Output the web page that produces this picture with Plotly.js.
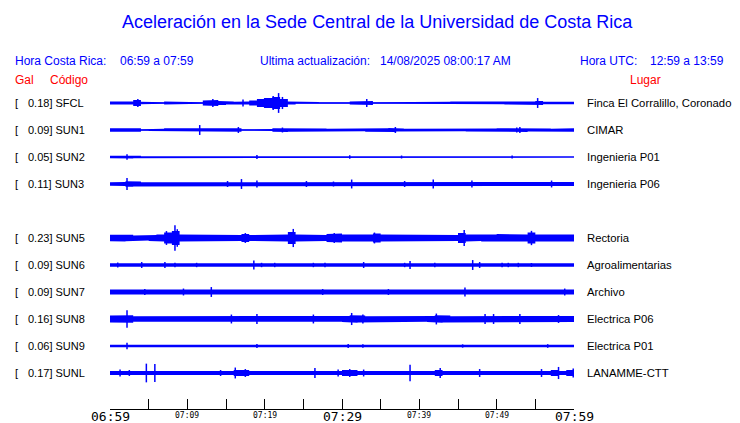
<!DOCTYPE html>
<html>
<head>
<meta charset="utf-8">
<script src="https://cdn.plot.ly/plotly-3.0.1.min.js"></script>
<style>html,body{margin:0;padding:0;background:#fff;}#chart{width:740px;height:423px;}</style>
</head>
<body>
<div id="chart"></div>
<script>
// ---------------- DATA ----------------
// Station codes, locations and peak acceleration (Gal)
const codes = ["SFCL","SUN1","SUN2","SUN3","SUN5","SUN6","SUN7","SUN8","SUN9","SUNL"];
const places = ["Finca El Corralillo, Coronado","CIMAR","Ingenieria P01","Ingenieria P06","Rectoria","Agroalimentarias","Archivo","Electrica P06","Electrica P01","LANAMME-CTT"];
const peakGal = [0.18,0.09,0.05,0.11,0.23,0.09,0.09,0.16,0.06,0.17];

// Time axis: minutes after 06:59 local
const tickMinutes = [0,5,10,15,20,25,30,35,40,45,50,55,60];
const tickLabels = ["06:59","","07:09","","07:19","","07:29","","07:39","","07:49","","07:59"];
const bigTicks = ["06:59","07:29","07:59"];

// Envelope (half amplitude, mGal) for each 1-minute interval, per station
const envSFCL = [27,22,27,54,22,18,13,27,27,27, 23,14,45,54,36,27,22,27,45,72, 90,108,72,27,14,14,18,13,18,18, 14,27,36,36,14,14,13,14,14,22, 14,22,14,22,27,22,14,18,22,27, 22,27,27,27,27,36,22,22,27,22];
const envSUN1 = [31,31,31,31,14,18,22,31,31,27, 27,31,31,31,31,18,31,14,27,22, 18,31,36,31,31,31,27,27,22,31, 31,27,22,31,31,31,36,27,22,27, 27,27,27,18,14,22,27,27,27,27, 31,31,31,36,27,27,27,22,27,31];
const envSUN2 = [22,14,27,22,9,11,11,14,18,9, 11,9,18,13,13,22,22,14,22,14, 13,18,9,11,9,22,18,9,11,18, 22,22,11,11,11,11,14,18,18,9, 11,22,18,9,11,9,18,22,22,22, 18,13,18,18,9,11,18,22,18,11];
const envSUN3 = [32,36,50,45,32,32,32,36,36,32, 32,32,32,32,36,45,32,36,32,45, 36,32,32,32,32,45,32,36,36,40, 32,40,36,32,32,32,32,32,40,32, 32,45,40,32,32,32,45,45,40,32, 32,36,32,32,32,32,32,45,32,36];
const envSUN5 = [58,63,58,45,45,54,63,99,126,63, 54,54,54,54,54,54,54,72,54,54, 54,54,63,108,63,54,54,54,72,81, 63,54,54,63,81,63,54,54,54,54, 54,54,63,63,54,90,63,54,63,63, 72,63,72,63,99,63,63,63,72,63];
const envSUN6 = [31,36,31,31,36,31,31,36,31,31, 31,31,31,31,31,31,31,31,36,31, 31,31,31,31,31,31,31,31,31,31, 31,31,36,31,31,31,31,31,36,31, 31,31,31,31,31,31,40,40,31,31, 31,31,31,31,31,31,31,31,31,31];
const envSUN7 = [45,45,42,42,50,42,45,45,42,50, 45,42,45,50,45,42,42,42,45,42, 42,45,42,42,42,45,42,50,42,45, 42,45,42,42,45,42,50,42,45,42, 42,45,42,42,45,50,45,42,42,45, 42,45,42,42,45,42,42,45,50,45];
const envSUN8 = [63,63,68,50,50,50,50,50,55,50, 50,50,55,50,50,63,63,50,55,63, 50,50,50,55,50,50,55,50,50,50, 55,68,63,50,50,50,50,50,50,50, 50,55,68,63,50,50,50,50,63,63, 50,50,55,63,55,50,50,63,63,55];
const envSUN9 = [23,23,27,23,23,18,23,23,23,18, 23,23,23,23,27,23,23,23,23,27, 23,23,23,18,23,23,23,23,23,23, 27,23,27,23,23,23,23,18,23,23, 23,23,23,23,23,23,27,23,23,23, 23,23,18,23,23,23,27,23,23,23];
const envSUNL = [36,45,45,36,45,45,36,36,36,36, 36,36,36,36,45,36,54,54,36,36, 36,36,36,36,36,36,45,36,36,36, 54,54,36,36,36,36,36,36,45,36, 36,36,54,36,36,36,36,45,36,36, 36,36,36,36,45,36,36,54,36,54];

// Isolated peaks: time (minutes) and half amplitude (mGal)
const spkT_SFCL = [3.6,13.3,17.2,20.0,21.1,21.8,22.3,33.2,55.3];
const spkA_SFCL = [72,72,63,90,126,180,110,72,90];
const spkT_SUN1 = [11.6,16.6,22.3,36.9,52.6,53.0];
const spkA_SUN1 = [90,54,45,54,45,54];
const spkT_SUN2 = [2.2,19.0,31.0,37.7,52.0];
const spkA_SUN2 = [50,36,32,27,27];
const spkT_SUN3 = [2.2,15.2,17.0,19.0,25.4,28.9,31.25,38.1,41.8,46.8,57.1];
const spkA_SUN3 = [110,54,90,63,54,45,81,54,81,63,63];
const spkT_SUN5 = [7.3,8.4,8.7,17.5,23.7,29.0,34.2,45.8,54.5];
const spkA_SUN5 = [126,230,160,90,165,90,99,145,130];
const spkT_SUN6 = [1.0,4.1,7.1,8.4,11.2,18.6,19.6,21.3,26.3,27.8,32.8,38.1,38.8,42.0,46.9,47.8,50.7,51.5,52.8,54.5];
const spkA_SUN6 = [45,54,54,40,40,80,40,40,40,40,54,40,72,40,90,54,40,40,40,36];
const spkT_SUN7 = [4.5,9.5,13.1,27.5,36.0,45.9,58.8];
const spkA_SUN7 = [54,63,90,54,54,81,63];
const spkT_SUN8 = [2.2,15.7,19.0,26.3,31.25,32.7,42.2,48.5,49.6,53.0,58.0];
const spkA_SUN8 = [160,81,90,81,110,81,99,90,90,90,72];
const spkT_SUN9 = [2.2,19.0,30.8,32.7,45.6,56.6];
const spkA_SUN9 = [60,36,36,33,30,33];
const spkT_SUNL = [1.3,2.5,4.7,5.8,14.3,16.2,17.5,26.5,29.5,31.0,32.8,38.8,42.7,47.8,55.8,58.0,59.9];
const spkA_SUNL = [63,54,170,165,54,99,72,90,63,72,63,150,90,72,72,110,81];

const envs = [envSFCL,envSUN1,envSUN2,envSUN3,envSUN5,envSUN6,envSUN7,envSUN8,envSUN9,envSUNL];
const spkTs = [spkT_SFCL,spkT_SUN1,spkT_SUN2,spkT_SUN3,spkT_SUN5,spkT_SUN6,spkT_SUN7,spkT_SUN8,spkT_SUN9,spkT_SUNL];
const spkAs = [spkA_SFCL,spkA_SUN1,spkA_SUN2,spkA_SUN3,spkA_SUN5,spkA_SUN6,spkA_SUN7,spkA_SUN8,spkA_SUN9,spkA_SUNL];

// ---------------- LAYOUT ----------------
const W = 740, H = 423;
const M = {l:110, r:166, t:90, b:14};
const plotW = W - M.l - M.r, plotH = H - M.t - M.b;
const pxPerGal = 55;          // common amplitude scale of all traces
const rowPx = 27, firstRowPx = 13;
const rowSlot = [0,1,2,3,5,6,7,8,9,10];   // slot 4 left empty
const BLUE = '#0000ff';

function centerGal(i){ return -(firstRowPx + rowPx*rowSlot[i]) / pxPerGal; }
function rowPy(i){ return M.t + firstRowPx + rowPx*rowSlot[i]; }

const traces = [];
codes.forEach((code, i) => {
  const c = centerGal(i);
  const env = envs[i];
  const bx = [], by = [];
  for (let k = 0; k < env.length; k++) { bx.push(k, k+1); by.push(c + env[k]/1000, c + env[k]/1000); }
  for (let k = env.length-1; k >= 0; k--) { bx.push(k+1, k); by.push(c - env[k]/1000, c - env[k]/1000); }
  traces.push({x:bx, y:by, mode:'lines', fill:'toself', fillcolor:BLUE, line:{width:0, color:BLUE}, hoverinfo:'skip', showlegend:false});
  traces.push({x:[0, env.length], y:[c, c], mode:'lines', line:{width:1, color:BLUE}, hoverinfo:'skip', showlegend:false});
  const sx = [], sy = [];
  spkTs[i].forEach((t, j) => { const a = spkAs[i][j]/1000; sx.push(t, t, null); sy.push(c - a, c + a, null); });
  traces.push({x:sx, y:sy, mode:'lines', line:{width:1.5, color:BLUE}, hoverinfo:'skip', showlegend:false, connectgaps:false});
});

function px2x(px){ return (px - M.l)/plotW; }
function py2y(py){ return (H - M.b - py)/plotH; }
const F = 'Liberation Sans, Arial, sans-serif';
function ann(text, px, py, size, color, anchor, family){
  return {text:text, x:px2x(px), y:py2y(py), xref:'paper', yref:'paper', showarrow:false,
          xanchor:anchor||'left', yanchor:'middle', borderpad:0, font:{family:family||F, size:size, color:color}};
}

const annotations = [
  ann('Aceleración en la Sede Central de la Universidad de Costa Rica', 377, 22, 18, BLUE, 'center'),
  ann('Hora Costa Rica:', 14, 61, 12, BLUE),
  ann('06:59 a 07:59', 119, 61, 12, BLUE),
  ann('Ultima actualización:', 259, 61, 12, BLUE),
  ann('14/08/2025 08:00:17 AM', 379, 61, 12, BLUE),
  ann('Hora UTC:', 579, 61, 12, BLUE),
  ann('12:59 a 13:59', 649, 61, 12, BLUE),
  ann('Gal', 14, 80, 12, '#ff0000'),
  ann('Código', 49, 80, 12, '#ff0000'),
  ann('Lugar', 645, 80, 12, '#ff0000', 'center')
];
codes.forEach((code, i) => {
  const py = rowPy(i);
  annotations.push(ann('[', 14, py, 11, '#000'));
  annotations.push(ann(peakGal[i].toFixed(2) + '] ' + code, 27, py, 11, '#000'));
  annotations.push(ann(places[i], 586, py, 11.3, '#000'));
});
// time labels under the axis
tickMinutes.forEach((m, k) => {
  const s = tickLabels[k];
  if (!s) return;
  const big = bigTicks.includes(s);
  annotations.push({text:s, x:m/60, y:py2y(big ? 416.5 : 415), xref:'paper', yref:'paper', showarrow:false,
    xanchor:'center', yanchor:'middle', borderpad:0,
    font:{family:'DejaVu Sans Mono, monospace', size: big ? 13 : 8, color:'#000'}});
});

const layout = {
  width:W, height:H, margin:M, paper_bgcolor:'#fff', plot_bgcolor:'#fff', showlegend:false,
  xaxis:{range:[0,60], showgrid:false, zeroline:false, showline:true, linecolor:'#000', linewidth:1,
         ticks:'inside', ticklen:10, tickwidth:1, tickcolor:'#000', tickmode:'array',
         tickvals:tickMinutes, showticklabels:false, automargin:false, fixedrange:true},
  yaxis:{range:[-plotH/pxPerGal, 0], visible:false, fixedrange:true},
  annotations:annotations
};

Plotly.newPlot('chart', traces, layout, {staticPlot:true, displayModeBar:false});
</script>
</body>
</html>
